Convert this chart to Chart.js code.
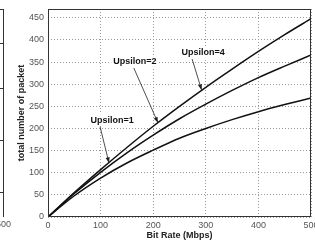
<!DOCTYPE html>
<html lang="en">
  <head>
    <meta charset="UTF-8" />
    <script src="https://cdn.jsdelivr.net/npm/chart.js"></script>
    <title>Upsilon</title>
    <style>
      body { margin: 0; background: #fff; }
    </style>
  </head>
  <body>
    <canvas id="myChart" width="315" height="243"></canvas>
    <script>
      var bitRate = [0, 50, 100, 150, 200, 250, 300, 350, 400, 450, 500];
      var ups4 = [0, 55, 107, 157, 205, 250, 293, 334, 374, 412, 448];
      var ups2 = [0, 53, 101, 145, 185, 222, 255, 286, 315, 341, 366];
      var ups1 = [0, 48, 88, 122, 151, 178, 200, 220, 238, 254, 269];
      var xTicks = [0, 100, 200, 300, 400, 500];
      var yTicks = [0, 50, 100, 150, 200, 250, 300, 350, 400, 450];

      // labels with arrows, in data units
      var notes = [
        { text: "Upsilon=4", x: 295, y: 371, from: [274, 357], to: [292, 287] },
        { text: "Upsilon=2", x: 165, y: 351, from: [163, 337], to: [209, 213] },
        { text: "Upsilon=1", x: 122, y: 219, from: [99, 204], to: [116, 122] },
      ];

      function pts(ys) {
        return bitRate.map(function (x, i) { return { x: x, y: ys[i] }; });
      }

      function line(label, ys) {
        return {
          label: label,
          data: pts(ys),
          borderColor: "#111",
          borderWidth: 1.5,
          pointRadius: 0,
          fill: false,
          cubicInterpolationMode: "monotone",
        };
      }

      var extras = {
        id: "extras",
        afterDraw: function (chart) {
          var c = chart.ctx;
          var a = chart.chartArea;
          var xs = chart.scales.x, ys = chart.scales.y;
          c.save();
          // plot box
          c.strokeStyle = "#333";
          c.lineWidth = 1;
          c.strokeRect(a.left + 0.5, a.top + 0.5, a.right - a.left - 1, a.bottom - a.top - 1);

          // edge of the neighbouring plot
          c.beginPath();
          c.moveTo(3.5, a.top);
          c.lineTo(3.5, a.bottom);
          c.moveTo(0, a.top + 0.5);
          c.lineTo(3.5, a.top + 0.5);
          [43, 88, 140, 192].forEach(function (y) {
            c.moveTo(0, y + 0.5);
            c.lineTo(3.5, y + 0.5);
          });
          c.stroke();
          c.fillStyle = "#555";
          c.font = "9px 'Liberation Sans', Arial, sans-serif";
          c.textAlign = "right";
          c.textBaseline = "middle";
          c.fillText("500", 11, 225);

          // annotations
          notes.forEach(function (n) {
            var x0 = xs.getPixelForValue(n.from[0]), y0 = ys.getPixelForValue(n.from[1]);
            var x1 = xs.getPixelForValue(n.to[0]), y1 = ys.getPixelForValue(n.to[1]);
            c.strokeStyle = "#222";
            c.fillStyle = "#222";
            c.lineWidth = 0.8;
            c.beginPath();
            c.moveTo(x0, y0);
            c.lineTo(x1, y1);
            c.stroke();
            var ang = Math.atan2(y1 - y0, x1 - x0);
            c.beginPath();
            c.moveTo(x1, y1);
            c.lineTo(x1 - 6 * Math.cos(ang - 0.35), y1 - 6 * Math.sin(ang - 0.35));
            c.lineTo(x1 - 6 * Math.cos(ang + 0.35), y1 - 6 * Math.sin(ang + 0.35));
            c.closePath();
            c.fill();

            c.font = "bold 9px 'Liberation Sans', Arial, sans-serif";
            var tx = xs.getPixelForValue(n.x), ty = ys.getPixelForValue(n.y);
            var w = c.measureText(n.text).width;
            c.fillStyle = "#fff";
            c.fillRect(tx - w / 2 - 2, ty - 6, w + 4, 12);
            c.fillStyle = "#111";
            c.textAlign = "center";
            c.textBaseline = "middle";
            c.fillText(n.text, tx, ty);
          });
          c.restore();
        },
      };

      var tickFont = { family: "'Liberation Sans', Arial, sans-serif", size: 9 };
      var titleFont = { family: "'Liberation Sans', Arial, sans-serif", size: 9, weight: "bold" };

      var ctx = document.getElementById("myChart");
      var myChart = new Chart(ctx, {
        type: "line",
        data: {
          datasets: [line("Upsilon=4", ups4), line("Upsilon=2", ups2), line("Upsilon=1", ups1)],
        },
        plugins: [extras],
        options: {
          responsive: false,
          animation: false,
          devicePixelRatio: 1,
          layout: { padding: { left: 0, right: 4, top: 9, bottom: 0 } },
          plugins: { legend: { display: false }, tooltip: { enabled: false } },
          scales: {
            x: {
              type: "linear",
              min: 0,
              max: 500,
              afterBuildTicks: function (s) { s.ticks = xTicks.map(function (v) { return { value: v }; }); },
              afterFit: function (s) { s.height = 26; s.paddingLeft = 0; s.paddingRight = 0; },
              grid: { color: "#999", drawTicks: false },
              border: { display: false, dash: [1, 2] },
              ticks: { color: "#555", font: tickFont, padding: 3, maxRotation: 0 },
              title: { display: true, text: "Bit Rate (Mbps)", color: "#222", font: titleFont, padding: { top: 0, bottom: 2 } },
            },
            y: {
              min: 0,
              max: 470,
              afterBuildTicks: function (s) { s.ticks = yTicks.map(function (v) { return { value: v }; }); },
              afterFit: function (s) { s.width = 48; s.paddingTop = 0; s.paddingBottom = 0; },
              grid: { color: "#999", drawTicks: false },
              border: { display: false, dash: [1, 2] },
              ticks: { color: "#555", font: tickFont, padding: 4 },
              title: { display: true, text: "total number of packet", color: "#222", font: titleFont, padding: { top: 16, bottom: 0 } },
            },
          },
        },
      });
    </script>
  </body>
</html>
